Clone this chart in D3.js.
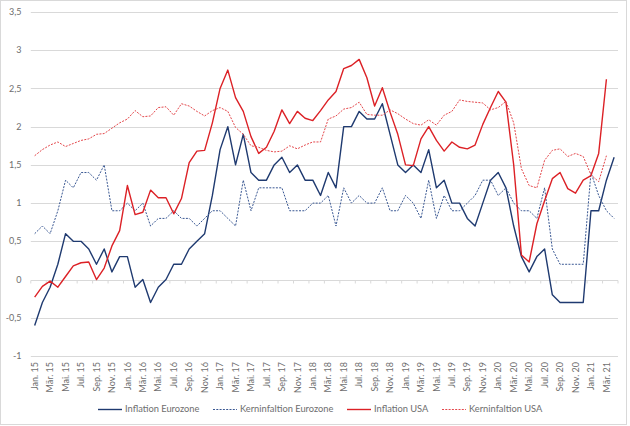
<!DOCTYPE html>
<html>
<head>
<meta charset="utf-8">
<script src="https://cdn.jsdelivr.net/npm/d3@7"></script>
<style>
  html, body { margin: 0; padding: 0; background: #fff; }
  svg { display: block; font-family: Lato, "Noto Sans", sans-serif; }
</style>
</head>
<body>
<svg id="chart" width="630" height="426"></svg>
<script>
// Monate Jan. 15 bis Apr. 21
var monthNames = ["Jan.", "Feb.", "Mär.", "Apr.", "Mai.", "Jun.", "Jul.", "Aug.", "Sep.", "Okt.", "Nov.", "Dez."];
var years = ["15", "16", "17", "18", "19", "20", "21"];
var categories = [];
years.forEach(function(yr) {
	monthNames.forEach(function(m) { categories.push(m + " " + yr); });
});
categories = categories.slice(0, 76);

var yTicks = [-1, -0.5, 0, 0.5, 1, 1.5, 2, 2.5, 3, 3.5];

var inflationEZ = [
	-0.6, -0.3, -0.1, 0.2, 0.6, 0.5, 0.5, 0.4, 0.2, 0.4, 0.1, 0.3,
	0.3, -0.1, 0.0, -0.3, -0.1, 0.0, 0.2, 0.2, 0.4, 0.5, 0.6, 1.1,
	1.7, 2.0, 1.5, 1.9, 1.4, 1.3, 1.3, 1.5, 1.6, 1.4, 1.5, 1.3,
	1.3, 1.1, 1.4, 1.2, 2.0, 2.0, 2.2, 2.1, 2.1, 2.3, 1.9, 1.5,
	1.4, 1.5, 1.4, 1.7, 1.2, 1.3, 1.0, 1.0, 0.8, 0.7, 1.0, 1.3,
	1.4, 1.2, 0.7, 0.3, 0.1, 0.3, 0.4, -0.2, -0.3, -0.3, -0.3, -0.3,
	0.9, 0.9, 1.3, 1.6
];
var kernEZ = [
	0.6, 0.7, 0.6, 0.9, 1.3, 1.2, 1.4, 1.4, 1.3, 1.5, 0.9, 0.9,
	1.0, 0.9, 1.0, 0.7, 0.8, 0.8, 0.9, 0.8, 0.8, 0.7, 0.8, 0.9,
	0.9, 0.8, 0.7, 1.3, 0.9, 1.2, 1.2, 1.2, 1.2, 0.9, 0.9, 0.9,
	1.0, 1.0, 1.1, 0.7, 1.2, 1.0, 1.1, 1.0, 1.0, 1.2, 0.9, 0.9,
	1.1, 1.0, 0.8, 1.3, 0.8, 1.1, 0.9, 0.9, 1.0, 1.1, 1.3, 1.3,
	1.1, 1.2, 1.0, 0.9, 0.9, 0.8, 1.2, 0.4, 0.2, 0.2, 0.2, 0.2,
	1.4, 1.1, 0.9, 0.8
];
var inflationUSA = [
	-0.23, -0.09, -0.02, -0.1, 0.04, 0.18, 0.22, 0.23, 0.0, 0.15, 0.44, 0.64,
	1.23, 0.85, 0.88, 1.17, 1.07, 1.07, 0.86, 1.06, 1.53, 1.68, 1.69, 2.05,
	2.5, 2.74, 2.38, 2.2, 1.87, 1.65, 1.73, 1.94, 2.22, 2.04, 2.2, 2.11,
	2.08, 2.21, 2.35, 2.46, 2.76, 2.8, 2.88, 2.64, 2.27, 2.51, 2.19, 1.9,
	1.5, 1.49, 1.84, 2.0, 1.82, 1.68, 1.8, 1.73, 1.71, 1.76, 2.03, 2.25,
	2.46, 2.32, 1.5, 0.32, 0.23, 0.73, 1.03, 1.32, 1.4, 1.19, 1.13, 1.3,
	1.36, 1.65, 2.62
];
var kernUSA = [
	1.62, 1.7, 1.76, 1.8, 1.74, 1.78, 1.82, 1.84, 1.9, 1.91, 1.98, 2.05,
	2.1, 2.21, 2.13, 2.14, 2.25, 2.26, 2.15, 2.3, 2.27, 2.2, 2.14, 2.21,
	2.25, 2.2, 1.99, 1.9, 1.75, 1.73, 1.69, 1.67, 1.68, 1.75, 1.71, 1.76,
	1.8, 1.8, 2.1, 2.14, 2.23, 2.25, 2.32, 2.16, 2.15, 2.15, 2.22, 2.17,
	2.1, 2.04, 2.02, 2.09, 2.02, 2.15, 2.2, 2.35, 2.33, 2.32, 2.31, 2.22,
	2.25, 2.33, 2.05, 1.45, 1.23, 1.2, 1.56, 1.69, 1.71, 1.61, 1.65, 1.61,
	1.37, 1.28, 1.62
];

var series = [
	{ name: "Inflation Eurozone", values: inflationEZ, color: "#1f3a70", width: 1.4, dash: null, lx: 98 },
	{ name: "Kerninfaltion Eurozone", values: kernEZ, color: "#3a5893", width: 1, dash: "2,1.3", lx: 213 },
	{ name: "Inflation USA", values: inflationUSA, color: "#dc2126", width: 1.4, dash: null, lx: 347 },
	{ name: "Kerninfaltion USA", values: kernUSA, color: "#e4474b", width: 1, dash: "2,1.3", lx: 442 }
];

var svg = d3.select("#chart");
var textColor = "#6e6e6e";

// Rahmen
svg.append("rect").attr("x", 0.5).attr("y", 0.5).attr("width", 626).attr("height", 424)
	.attr("fill", "#fff").attr("stroke", "#d9d9d9");

var x = d3.scaleBand().domain(categories).range([30.8, 618]).padding(0);
var y = d3.scaleLinear().domain([-1, 3.5]).range([356, 12]);
var cx = function(i) { return x(categories[i]) + x.bandwidth() / 2; };

// Gitterlinien
svg.append("g").selectAll("line").data(yTicks).enter().append("line")
	.attr("x1", 30.8).attr("x2", 618)
	.attr("y1", function(d) { return Math.round(y(d)) + 0.5; })
	.attr("y2", function(d) { return Math.round(y(d)) + 0.5; })
	.attr("stroke", "#d9d9d9").attr("stroke-width", 1);

// y-Achse Beschriftung
svg.append("g").selectAll("text").data(yTicks).enter().append("text")
	.attr("x", 21.5).attr("y", function(d) { return y(d); }).attr("dy", "0.35em")
	.attr("text-anchor", "end").attr("font-size", 9).attr("fill", textColor)
	.text(function(d) { return String(d).replace(".", ","); });

// x-Achse bei 0 mit Strichen
var y0 = Math.round(y(0)) + 0.5;
var tickIdx = d3.range(0, categories.length + 1, 2);
svg.append("g").selectAll("line").data(tickIdx).enter().append("line")
	.attr("x1", function(b) { return 30.8 + b * x.step(); })
	.attr("x2", function(b) { return 30.8 + b * x.step(); })
	.attr("y1", y0).attr("y2", y0 + 3)
	.attr("stroke", "#d9d9d9");

// Monatsbeschriftung (jede zweite)
var labelCats = categories.filter(function(c, i) { return i % 2 === 0; });
svg.append("g").selectAll("text").data(labelCats).enter().append("text")
	.attr("transform", function(c) { return "translate(" + (x(c) + x.bandwidth() / 2) + ",362) rotate(-90)"; })
	.attr("dy", "0.35em").attr("text-anchor", "end")
	.attr("font-size", 9).attr("fill", textColor)
	.text(function(c) { return c; });

// Linien
var line = d3.line()
	.x(function(d, i) { return cx(i); })
	.y(function(d) { return y(d); });

svg.append("g").selectAll("path").data(series).enter().append("path")
	.attr("d", function(s) { return line(s.values); })
	.attr("fill", "none")
	.attr("stroke", function(s) { return s.color; })
	.attr("stroke-width", function(s) { return s.width; })
	.attr("stroke-dasharray", function(s) { return s.dash; })
	.attr("stroke-linejoin", "round");

// Legende
var leg = svg.append("g").selectAll("g").data(series).enter().append("g")
	.attr("transform", function(s) { return "translate(" + s.lx + ",409)"; });
leg.append("line").attr("x1", 0).attr("x2", 24).attr("y1", 0.5).attr("y2", 0.5)
	.attr("stroke", function(s) { return s.color; })
	.attr("stroke-width", function(s) { return s.width; })
	.attr("stroke-dasharray", function(s) { return s.dash; });
leg.append("text").attr("x", 27).attr("y", 0).attr("dy", "0.35em")
	.attr("font-size", 9.3).attr("fill", textColor)
	.text(function(s) { return s.name; });
</script>
</body>
</html>
